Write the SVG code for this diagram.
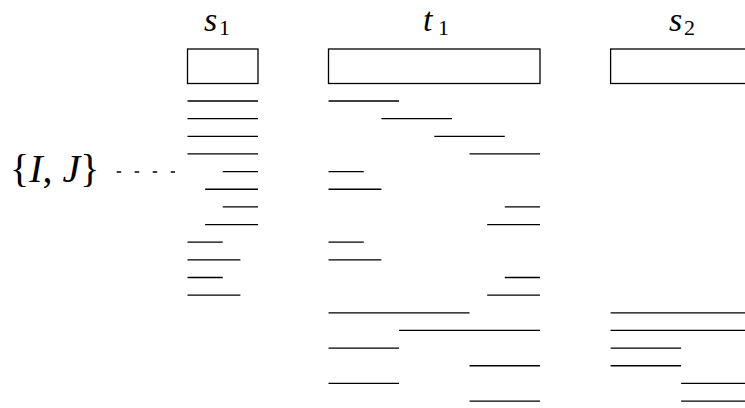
<svg xmlns="http://www.w3.org/2000/svg" width="745" height="408" viewBox="0 0 745 408">
<style>
.bx{fill:#fff;stroke:#000;stroke-width:1.3}
.ln{stroke:#000;stroke-width:1.3;fill:none}
.lbl{font-family:"Liberation Serif","Times New Roman",serif;font-size:34px;fill:#000}
.it{font-style:italic}
.sub{font-size:22px;font-style:normal}
.dots{stroke:#000;stroke-width:1.6;stroke-dasharray:4.5 13.5;fill:none}
</style>
<rect width="745" height="408" fill="#fff"/>
<g id="s1">
<text class="lbl" x="204" y="31"><tspan class="it">s</tspan><tspan class="sub" x="219" y="35">1</tspan></text>
<rect class="bx" x="187.5" y="49" width="70.5" height="34.5"/>
<path class="ln" d="M187.5 101H258M187.5 118.65H258M187.5 136.3H258M187.5 153.95H258M222.76 171.6H258M205.13 189.25H258M222.76 206.9H258M205.13 224.55H258M187.5 242.2H222.76M187.5 259.85H240.39M187.5 277.5H222.76M187.5 295.15H240.39"/>
</g>
<g id="t1">
<text class="lbl" x="423" y="31"><tspan class="it">t</tspan><tspan class="sub" x="438" y="35">1</tspan></text>
<rect class="bx" x="328.5" y="49" width="211.5" height="34.5"/>
<path class="ln" d="M328.5 101H399.02M381.39 118.65H451.91M434.28 136.3H504.8M469.54 153.95H540M328.5 171.6H363.76M328.5 189.25H381.39M504.8 206.9H540M487.17 224.55H540M328.5 242.2H363.76M328.5 259.85H381.39M504.8 277.5H540M487.17 295.15H540M328.5 312.8H469.54M399.02 330.45H540M328.5 348.1H399.02M469.54 365.75H540M328.5 383.4H399.02M469.54 401.05H540"/>
</g>
<g id="s2">
<text class="lbl" x="669" y="31"><tspan class="it">s</tspan><tspan class="sub" x="684" y="35">2</tspan></text>
<rect class="bx" x="610.6" y="49" width="141" height="34.5"/>
<path class="ln" d="M610.6 312.8H752M610.6 330.45H752M610.6 348.1H681.12M610.6 365.75H681.12M681.12 383.4H752M681.12 401.05H752"/>
</g>
<g id="IJ">
<text class="lbl" x="10" y="182" style="font-size:40px">{<tspan class="it">I</tspan>, <tspan class="it">J</tspan>}</text>
</g>
<g id="connectors">
<line class="dots" x1="116.7" y1="172" x2="175" y2="172"/>
</g>
</svg>
